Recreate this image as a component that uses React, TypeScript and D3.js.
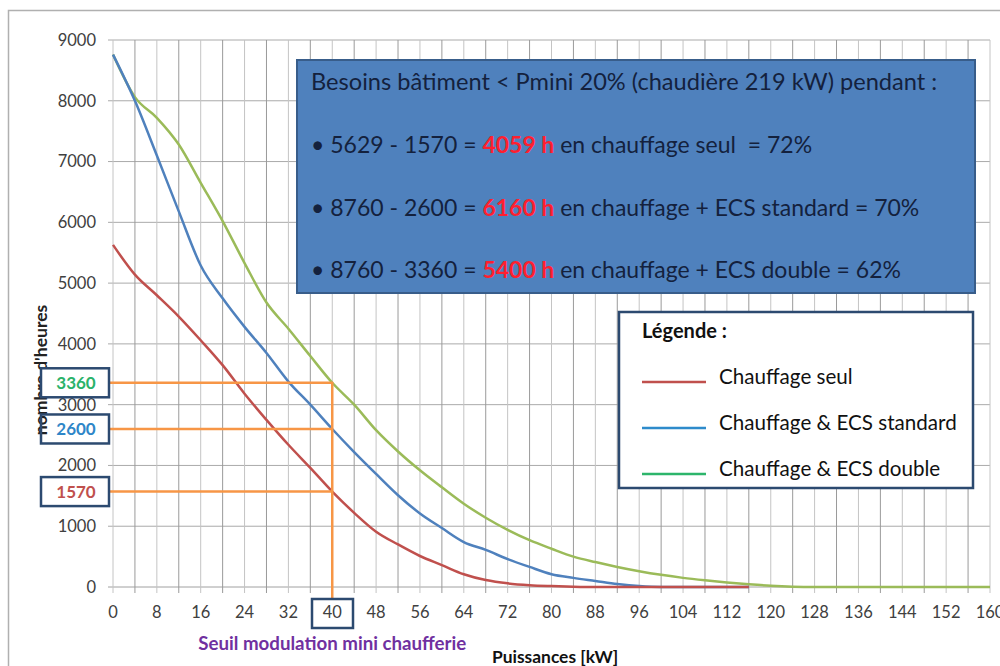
import React from "react";
import * as d3 from "d3";

const powers = [0, 4, 8, 12, 16, 20, 24, 28, 32, 36, 40, 44, 48, 52, 56, 60, 64, 68, 72, 76, 80, 84, 88, 92, 96, 100, 104, 108, 112, 116, 120, 124, 128, 132, 136, 140, 144, 148, 152, 156, 160];
const chauffageSeul: (number | null)[] = [5629, 5140, 4800, 4450, 4060, 3650, 3180, 2750, 2340, 1960, 1570, 1220, 910, 700, 510, 360, 210, 115, 60, 30, 15, 5, 0, 0, 0, 0, 0, 0, 0, 0, null, null, null, null, null, null, null, null, null, null, null];
const ecsStandard: (number | null)[] = [8760, 8000, 7100, 6180, 5290, 4750, 4280, 3850, 3380, 3000, 2600, 2220, 1860, 1510, 1210, 970, 740, 610, 460, 330, 210, 150, 100, 50, 15, 0, 0, 0, 0, 0, null, null, null, null, null, null, null, null, null, null, null];
const ecsDouble: (number | null)[] = [8760, 8060, 7720, 7280, 6650, 6020, 5330, 4680, 4250, 3800, 3360, 3000, 2580, 2230, 1920, 1640, 1370, 1140, 940, 770, 630, 500, 410, 330, 260, 200, 150, 110, 75, 45, 20, 5, 0, 0, 0, 0, 0, 0, 0, 0, 0];
const yTicks = [0, 1000, 2000, 3000, 4000, 5000, 6000, 7000, 8000, 9000];
const xTickLabels = [0, 8, 16, 24, 32, 40, 48, 56, 64, 72, 80, 88, 96, 104, 112, 120, 128, 136, 144, 152, 160];
const xGrid = [0, 4, 8, 12, 16, 20, 24, 28, 32, 36, 40, 44, 48, 52, 56, 60, 64, 68, 72, 76, 80, 84, 88, 92, 96, 100, 104, 108, 112, 116, 120, 124, 128, 132, 136, 140, 144, 148, 152, 156, 160];
const thresholdPower = 40;
const thresholdHours = [3360, 2600, 1570];
const thresholdColors = ["#2bb26a", "#2e86c8", "#c0504d"];
const seriesNames = ["Chauffage seul", "Chauffage & ECS standard", "Chauffage & ECS double"];
const legendColors = ["#c0504d", "#2e8bcb", "#2db56b"];
const lineColors = ["#c0504d", "#4f81bd", "#9bbb59"];
const noteTitle = "Besoins bâtiment < Pmini 20% (chaudière 219 kW) pendant :";
const noteLines = [
  ["• 5629 - 1570 = ", "4059 h", " en chauffage seul  = 72%"],
  ["• 8760 - 2600 = ", "6160 h", " en chauffage + ECS standard = 70%"],
  ["• 8760 - 3360 = ", "5400 h", " en chauffage + ECS double = 62%"],
];

const FONT = "Lato, 'Open Sans', sans-serif";

export default function App() {
  const x = d3.scaleLinear().domain([0, 160]).range([113, 990]);
  const y = d3.scaleLinear().domain([0, 9000]).range([587, 40]);
  const series = [chauffageSeul, ecsStandard, ecsDouble];
  const line = d3
    .line<number | null>()
    .defined((d) => d !== null)
    .x((_, i) => x(powers[i]))
    .y((d) => y(d as number))
    .curve(d3.curveMonotoneX);
  const drawOrder = [2, 1, 0];
  return (
    <svg width={1000} height={666} style={{ position: "absolute", left: 0, top: 0, background: "#fff" }} fontFamily={FONT}>
      <rect x={8.5} y={10.5} width={1010} height={680} fill="#fff" stroke="#b0b0b0" strokeWidth={1.5} />
      {/* horizontal grid */}
      {yTicks.map((t) => (
        <line key={"h" + t} x1={108} x2={x(160)} y1={y(t)} y2={y(t)} stroke={t === 0 ? "#a0a0a0" : "#aaaaaa"} strokeWidth={1} />
      ))}
      {/* vertical grid */}
      {xGrid.map((t, i) => (
        <line key={"v" + t} x1={x(t)} x2={x(t)} y1={y(9000)} y2={y(0) + 6} stroke={i % 2 === 1 ? "#9a9a9a" : "#c4c4c4"} strokeWidth={1} />
      ))}
      {/* y tick labels */}
      {yTicks.map((t) => (
        <text key={"yl" + t} x={96} y={y(t)} dy="0.36em" textAnchor="end" fontSize={16.5} fill="#404040">
          {t}
        </text>
      ))}
      {/* x tick labels */}
      {xTickLabels.map((t) => (
        <text key={"xl" + t} x={x(t)} y={618} textAnchor="middle" fontSize={16.5} fill="#404040">
          {t}
        </text>
      ))}
      {/* series */}
      {drawOrder.map((k) => (
        <path key={"s" + k} d={line(series[k]) || ""} fill="none" stroke={lineColors[k]} strokeWidth={2.5} />
      ))}
      {/* y title */}
      <text transform={`translate(47,370) rotate(-90)`} textAnchor="middle" fontSize={17.5} fontWeight="bold" fill="#222">
        nombre d'heures
      </text>
      {/* threshold guides */}
      {thresholdHours.map((h) => (
        <line key={"oh" + h} x1={109} x2={x(thresholdPower)} y1={y(h)} y2={y(h)} stroke="#f79646" strokeWidth={2.5} />
      ))}
      <line x1={x(thresholdPower)} x2={x(thresholdPower)} y1={y(thresholdHours[0]) - 1} y2={599} stroke="#f79646" strokeWidth={2.5} />
      {thresholdHours.map((h, i) => (
        <g key={"ob" + h}>
          <rect x={41} y={y(h) - 14.5} width={68} height={29} fill={i === 0 ? "#fff" : "none"} stroke="#2c4a70" strokeWidth={2.5} />
          <text x={76} y={y(h)} dy="0.36em" textAnchor="middle" fontSize={17} fontWeight="bold" fill={thresholdColors[i]}>
            {h}
          </text>
        </g>
      ))}
      <rect x={312} y={599} width={41} height={29} fill="none" stroke="#2c4a70" strokeWidth={2.5} />
      <text x={x(thresholdPower)} y={650} textAnchor="middle" fontSize={18.7} fontWeight="bold" fill="#7030a0">
        Seuil modulation mini chaufferie
      </text>
      <text x={492} y={663} fontSize={17.4} fontWeight="bold" fill="#111">
        Puissances [kW]
      </text>
      {/* annotation box */}
      <rect x={297} y={60} width={678} height={233} fill="#4f81bd" stroke="#385d8a" strokeWidth={2} />
      <text x={311} y={90} fontSize={23.6} fill="#14213d" style={{ whiteSpace: "pre" }}>
        {noteTitle}
      </text>
      {noteLines.map((l, i) => (
        <text key={"n" + i} x={311} y={153 + i * 62.5} fontSize={23} fill="#14213d" style={{ whiteSpace: "pre" }}>
          <tspan>{l[0]}</tspan>
          <tspan fill="#ff1f2f" fontWeight="bold">{l[1]}</tspan>
          <tspan>{l[2]}</tspan>
        </text>
      ))}
      {/* legend */}
      <rect x={619} y={312} width={354} height={176} fill="#fff" stroke="#2c4a70" strokeWidth={2.5} />
      <text x={642} y={338} fontSize={20} fontWeight="bold" fill="#111">
        Légende :
      </text>
      {seriesNames.map((n, i) => (
        <g key={"lg" + i}>
          <line x1={642} x2={706} y1={382 + i * 46} y2={382 + i * 46} stroke={legendColors[i]} strokeWidth={2.5} />
          <text x={719} y={382 + i * 46} dy="0.1em" fontSize={20.6} fill="#111">
            {n}
          </text>
        </g>
      ))}
    </svg>
  );
}
